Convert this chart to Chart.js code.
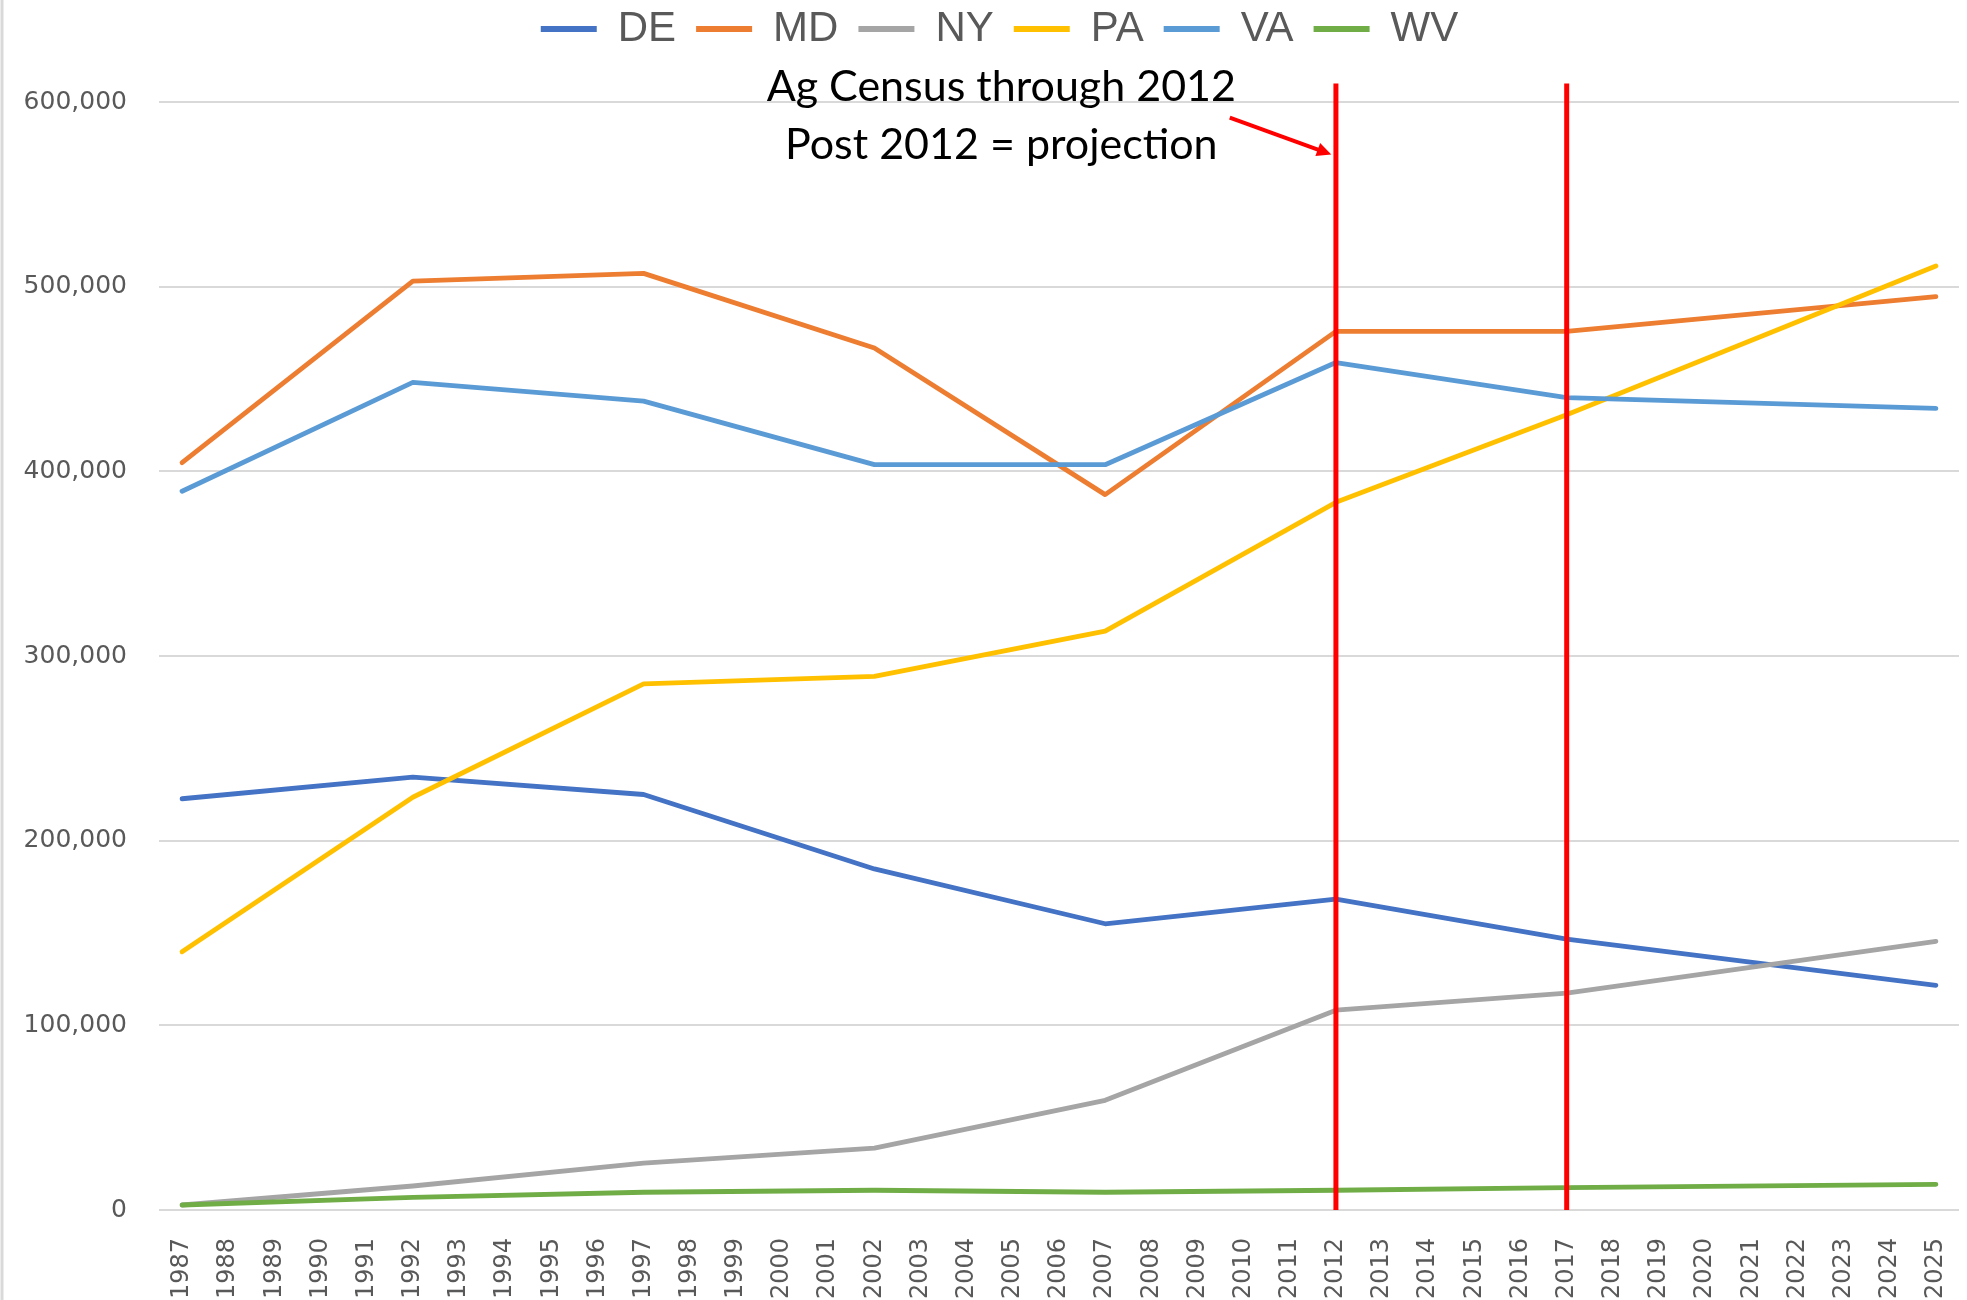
<!DOCTYPE html>
<html>
<head>
<meta charset="utf-8">
<script src="https://cdn.jsdelivr.net/npm/chart.js@4.4.1/dist/chart.umd.min.js"></script>
<style>
  html, body { margin: 0; padding: 0; background: #fff; }
  #wrap { width: 1967px; height: 1300px; }
</style>
</head>
<body>
<div id="wrap"><canvas id="chart" width="1967" height="1300"></canvas></div>
<script>
// ─────────────────────────────────────────────
// DATA
// ─────────────────────────────────────────────
const years = [
  '1987', '1988', '1989', '1990', '1991', '1992', '1993', '1994', '1995', '1996',
  '1997', '1998', '1999', '2000', '2001', '2002', '2003', '2004', '2005', '2006',
  '2007', '2008', '2009', '2010', '2011', '2012', '2013', '2014', '2015', '2016',
  '2017', '2018', '2019', '2020', '2021', '2022', '2023', '2024', '2025'
];

// census years (+ projections) that carry values
const censusYears = ['1987', '1992', '1997', '2002', '2007', '2012', '2017', '2025'];

const DE = [222700, 234400, 225000, 184700, 155000, 168300, 146700, 121700];
const MD = [404700, 503000, 507200, 466800, 387400, 475800, 475800, 494600];
const NY = [2700, 13000, 25400, 33500, 59400, 108200, 117400, 145500];
const PA = [139800, 223500, 284900, 289000, 313500, 383200, 430600, 511200];
const VA = [389200, 448200, 438000, 403600, 403600, 458900, 439900, 434100];
const WV = [2700, 6800, 9600, 10700, 9600, 10700, 12100, 13900];

const yMax = 600000;
const yStep = 100000;

const projectionYears = ['2012', '2017'];
const noteLines = ['Ag Census through 2012', 'Post 2012 = projection'];

// ─────────────────────────────────────────────
// HELPERS
// ─────────────────────────────────────────────
const toPoints = (vals) => censusYears.map((yr, i) => ({ x: yr, y: vals[i] }));

function makeSeries(label, vals, color, order) {
  return {
    label: label,
    data: toPoints(vals),
    borderColor: color,
    backgroundColor: color,
    borderWidth: 4.8,
    pointRadius: 0,
    tension: 0,
    spanGaps: true,
    borderCapStyle: 'round',
    borderJoinStyle: 'round',
    order: order
  };
}

// push the plot area down below the legend, and nudge the legend
const legendSpacer = {
  id: 'legendSpacer',
  beforeInit(chart) {
    const lg = chart.legend;
    if (!lg) return;
    const fit = lg.fit;
    lg.fit = function () {
      fit.call(this);
      this.height = 102;
    };
    const draw = lg.draw;
    lg.draw = function () {
      this.ctx.save();
      this.ctx.translate(20, -12);
      draw.apply(this, arguments);
      this.ctx.restore();
    };
  }
};

// thin frame line on the left edge
const leftFrame = {
  id: 'leftFrame',
  beforeDraw(chart) {
    const ctx = chart.ctx;
    ctx.save();
    ctx.strokeStyle = '#D9D9D9';
    ctx.lineWidth = 3;
    ctx.beginPath();
    ctx.moveTo(2, 0);
    ctx.lineTo(2, chart.height);
    ctx.stroke();
    ctx.restore();
  }
};

// red markers + note + arrow
const projectionMarks = {
  id: 'projectionMarks',
  afterDatasetsDraw(chart) {
    const { ctx, scales: { x, y } } = chart;
    ctx.save();
    ctx.strokeStyle = '#FF0000';
    ctx.lineWidth = 5;
    projectionYears.forEach(yr => {
      const px = x.getPixelForValue(years.indexOf(yr));
      ctx.beginPath();
      ctx.moveTo(px, y.getPixelForValue(610000));
      ctx.lineTo(px, y.getPixelForValue(0));
      ctx.stroke();
    });

    // note text
    ctx.fillStyle = '#000000';
    ctx.font = '43px Lato';
    ctx.textAlign = 'center';
    ctx.textBaseline = 'alphabetic';
    const cx = x.getPixelForValue(17.75);
    ctx.fillText(noteLines[0], cx, y.getPixelForValue(600300));
    ctx.fillText(noteLines[1], cx, y.getPixelForValue(569000));

    // arrow
    const x0 = x.getPixelForValue(22.7), y0 = y.getPixelForValue(591600);
    const x1 = x.getPixelForValue(24.9), y1 = y.getPixelForValue(571600);
    const ang = Math.atan2(y1 - y0, x1 - x0);
    const head = 16;
    ctx.lineWidth = 4;
    ctx.beginPath();
    ctx.moveTo(x0, y0);
    ctx.lineTo(x1 - Math.cos(ang) * head * 0.8, y1 - Math.sin(ang) * head * 0.8);
    ctx.stroke();
    ctx.fillStyle = '#FF0000';
    ctx.beginPath();
    ctx.moveTo(x1, y1);
    ctx.lineTo(x1 - head * Math.cos(ang - 0.45), y1 - head * Math.sin(ang - 0.45));
    ctx.lineTo(x1 - head * Math.cos(ang + 0.45), y1 - head * Math.sin(ang + 0.45));
    ctx.closePath();
    ctx.fill();
    ctx.restore();
  }
};

// ─────────────────────────────────────────────
// CHART
// ─────────────────────────────────────────────
const ctx = document.getElementById('chart').getContext('2d');
new Chart(ctx, {
  type: 'line',
  data: {
    labels: years,
    datasets: [
      makeSeries('DE', DE, '#4472C4', 6),
      makeSeries('MD', MD, '#ED7D31', 5),
      makeSeries('NY', NY, '#A5A5A5', 4),
      makeSeries('PA', PA, '#FFC000', 3),
      makeSeries('VA', VA, '#5B9BD5', 2),
      makeSeries('WV', WV, '#70AD47', 1)
    ]
  },
  options: {
    responsive: false,
    animation: false,
    layout: { padding: { left: 0, right: 8, top: 0, bottom: 0 } },
    scales: {
      x: {
        type: 'category',
        offset: true,
        grid: { display: false },
        border: { display: false },
        ticks: {
          autoSkip: false,
          minRotation: 90,
          maxRotation: 90,
          padding: 20,
          color: '#595959',
          font: { family: 'DejaVu Sans', size: 24 }
        },
        afterFit(s) {
          s.height = 90;
          s.paddingLeft = 0;
          s.paddingRight = 0;
        }
      },
      y: {
        min: 0,
        max: yMax,
        grid: { color: '#D9D9D9', lineWidth: 2, drawTicks: false },
        border: { display: false },
        ticks: {
          stepSize: yStep,
          padding: 32,
          color: '#595959',
          font: { family: 'DejaVu Sans', size: 25 },
          callback: v => v.toLocaleString('en-US')
        },
        afterFit(s) { s.width = 159; }
      }
    },
    plugins: {
      legend: {
        position: 'top',
        labels: {
          boxWidth: 56,
          boxHeight: 6,
          padding: 20,
          color: '#595959',
          font: { family: 'Liberation Sans', size: 42 },
          sort: (a, b) => a.datasetIndex - b.datasetIndex,
          generateLabels(chart) {
            const items = Chart.defaults.plugins.legend.labels.generateLabels(chart);
            items.forEach(it => { it.lineWidth = 0; });
            return items;
          }
        }
      },
      tooltip: { enabled: false }
    }
  },
  plugins: [legendSpacer, leftFrame, projectionMarks]
});
</script>
</body>
</html>
